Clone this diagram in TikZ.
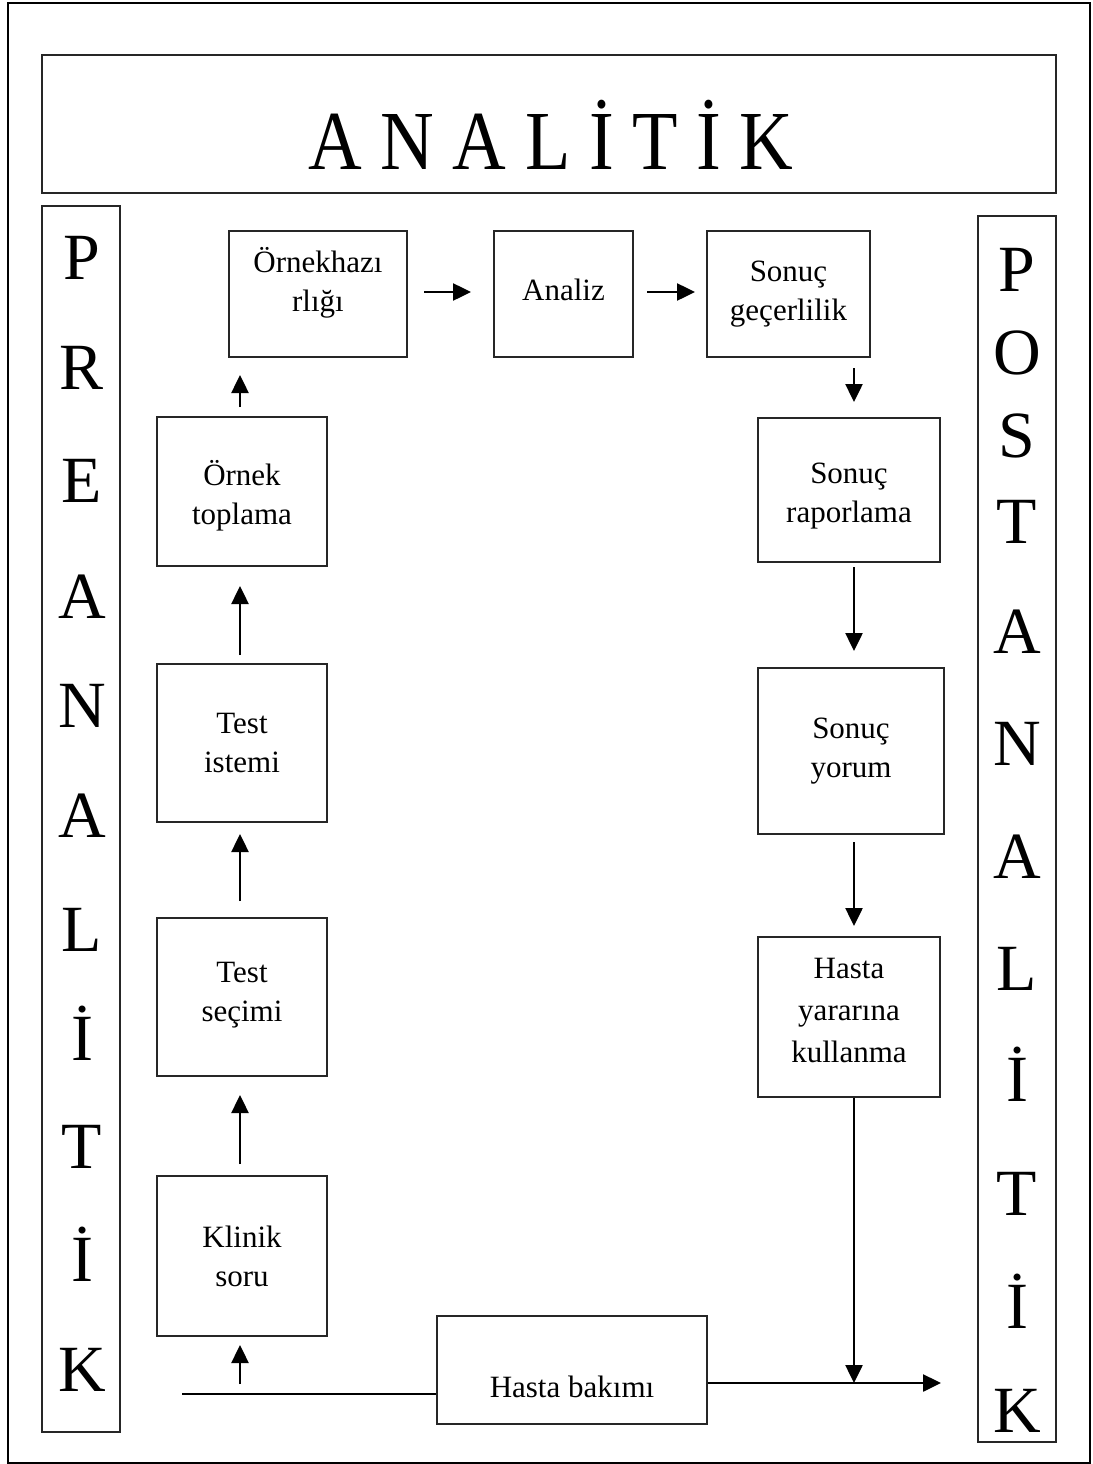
\documentclass[tikz,border=0pt]{standalone}
\usepackage{fontspec}
\setmainfont{Liberation Serif}
\newfontfamily\titlefont[FakeStretch=0.885]{Liberation Serif}
\usetikzlibrary{arrows.meta}
\begin{document}
\begin{tikzpicture}[x=1pt,y=-1pt,
  frame/.style={draw=black!85, line width=1.4pt},
  stage/.style={draw=black!85, line width=1.4pt, rectangle, inner sep=0pt},
  caption/.style={align=center, inner sep=0pt, font=\fontsize{31}{39}\selectfont},
  bigletter/.style={anchor=base, inner sep=0pt, font=\fontsize{66}{66}\selectfont},
  flow/.style={line width=2.5pt, -{Triangle[length=18pt,width=17pt]}},
  link/.style={line width=2.5pt}]
\useasboundingbox (0,0) rectangle (1092,1464);
% outer frame
\draw[line width=2.5pt] (8,3) rectangle (1090,1463);

% title band
\draw[frame] (42,55) rectangle (1056,193);
\node[anchor=base, inner sep=0pt, font=\titlefont\fontsize{84}{84}\selectfont] (title) at (551,169) {A N A L İ T İ K};

% side columns
\draw[frame] (42,206) rectangle (120,1432);
\draw[frame] (978,216) rectangle (1056,1442);

% left column letters
\foreach \c/\y [count=\i] in {P/279,R/389,E/502,A/618,N/727,A/837,L/951,İ/1060,T/1168,İ/1281,K/1391}
  \node[bigletter] (pre\i) at (82,\y) {\c};
% right column letters
\foreach \c/\y [count=\i] in {P/291,O/374,S/457,T/543,A/653,N/765,A/878,L/990,İ/1101,T/1215,İ/1328,K/1432}
  \node[bigletter] (post\i) at (1017,\y) {\c};

% process boxes
\node[stage, minimum width=178pt, minimum height=126pt] (hazirlik) at (318,294) {};
\node[stage, minimum width=139pt, minimum height=126pt] (analiz) at (563.5,294) {};
\node[stage, minimum width=163pt, minimum height=126pt] (gecerlilik) at (788.5,294) {};
\node[stage, minimum width=170pt, minimum height=149pt] (toplama) at (242,491.5) {};
\node[stage, minimum width=170pt, minimum height=158pt] (istem) at (242,743) {};
\node[stage, minimum width=170pt, minimum height=158pt] (secim) at (242,997) {};
\node[stage, minimum width=170pt, minimum height=160pt] (klinik) at (242,1256) {};
\node[stage, minimum width=182pt, minimum height=144pt] (rapor) at (849,490) {};
\node[stage, minimum width=186pt, minimum height=166pt] (yorum) at (851,751) {};
\node[stage, minimum width=182pt, minimum height=160pt] (yarar) at (849,1017) {};
\node[stage, minimum width=270pt, minimum height=108pt] (bakim) at (572,1370) {};

% box captions (positive yshift raises a caption on the page)
\node[caption] (hazirlik-t) at ([yshift=11pt]hazirlik.center) {Örnekhazı\\rlığı};
\node[caption] (analiz-t) at ([yshift=4pt]analiz.center) {Analiz};
\node[caption] (gecerlilik-t) at (gecerlilik.center) {Sonuç\\geçerlilik};
\node[caption] (toplama-t) at ([yshift=-4pt]toplama.center) {Örnek\\toplama};
\node[caption] (istem-t) at (istem.center) {Test\\istemi};
\node[caption] (secim-t) at ([yshift=2pt]secim.center) {Test\\seçimi};
\node[caption] (klinik-t) at (klinik.center) {Klinik\\soru};
\node[caption] (rapor-t) at ([yshift=-6pt]rapor.center) {Sonuç\\raporlama};
\node[caption] (yorum-t) at (yorum.center) {Sonuç\\yorum};
\node[caption, font=\fontsize{31}{42}\selectfont] (yarar-t) at ([yshift=7pt]yarar.center) {Hasta\\yararına\\kullanma};
\node[caption] (bakim-t) at ([yshift=-17pt]bakim.center) {Hasta bakımı};

% free ends of the connectors
\coordinate (a1s) at (424,292); \coordinate (a1e) at (471,292);
\coordinate (a2s) at (647,292); \coordinate (a2e) at (695,292);
\coordinate (d1s) at (854,368); \coordinate (d1e) at (854,402);
\coordinate (d2s) at (854,567); \coordinate (d2e) at (854,651);
\coordinate (d3s) at (854,842); \coordinate (d3e) at (854,926);
\coordinate (u1s) at (240,407); \coordinate (u1e) at (240,375);
\coordinate (u2s) at (240,655); \coordinate (u2e) at (240,586);
\coordinate (u3s) at (240,901); \coordinate (u3e) at (240,834);
\coordinate (u4s) at (240,1164); \coordinate (u4e) at (240,1095);
\coordinate (u5s) at (240,1384); \coordinate (u5e) at (240,1345);
\coordinate (lin) at (182,1394);
\coordinate (join) at (854,1383);
\coordinate (out) at (941,1383);

% arrows
\draw[flow] (a1s) -- (a1e);
\draw[flow] (a2s) -- (a2e);
\draw[flow] (d1s) -- (d1e);
\draw[flow] (d2s) -- (d2e);
\draw[flow] (d3s) -- (d3e);
\draw[flow] (u1s) -- (u1e);
\draw[flow] (u2s) -- (u2e);
\draw[flow] (u3s) -- (u3e);
\draw[flow] (u4s) -- (u4e);
\draw[flow] (u5s) -- (u5e);
\draw[link] (lin) -- (lin -| bakim.west);
\draw[flow] (yarar.south -| join) -- (join);
\draw[flow] (join -| bakim.east) -- (out);
\end{tikzpicture}
\end{document}
